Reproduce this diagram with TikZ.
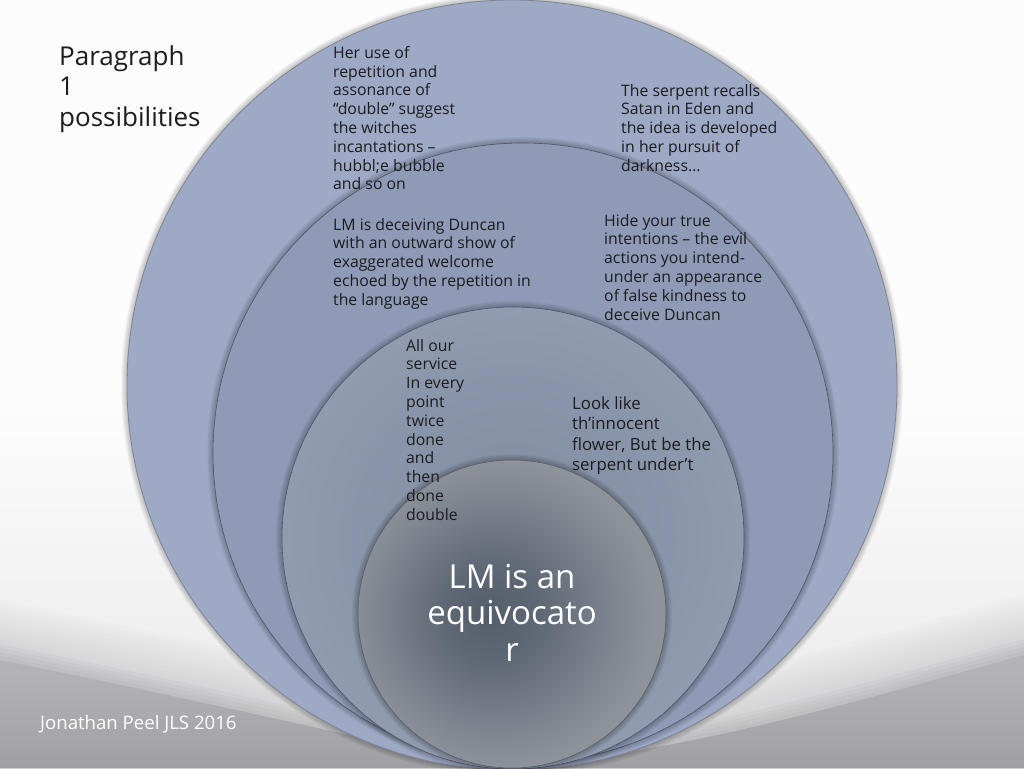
\documentclass[tikz,border=0pt]{standalone}
\usepackage{fontspec}
\setmainfont{Open Sans}
\definecolor{ringA}{HTML}{9EA9C6}
\definecolor{ringB}{HTML}{8E9AB6}
\definecolor{ringC}{HTML}{8995AA}
\definecolor{coreIn}{HTML}{545E6A}
\definecolor{coreMid}{HTML}{78808B}
\definecolor{coreOut}{HTML}{8E939A}
\definecolor{txt}{HTML}{1C1C1E}
\definecolor{bgLow}{HTML}{A0A0A4}
\definecolor{bgMid}{HTML}{C4C4C7}
\pgfdeclareradialshading{coreshade}{\pgfpoint{-4bp}{0bp}}{color(0bp)=(coreIn); color(8bp)=(coreIn!70!coreMid); color(17bp)=(coreMid); color(25bp)=(coreOut); color(50bp)=(coreOut)}
\pgfdeclareradialshading{ringCshade}{\pgfpoint{0bp}{0bp}}{color(0bp)=(ringC!94!black); color(17bp)=(ringC); color(25bp)=(ringC!94!white); color(50bp)=(ringC!94!white)}
\tikzset{
  blocktext/.style={anchor=base west, inner sep=0pt, text=txt, font=\fontsize{15.8}{18.8}\selectfont},
  ringedge/.style={draw=black!45!ringB, line width=0.6pt},
}
\newcommand\softshade[3]{%
  \foreach \k in {1,...,6}{\fill[black,opacity=0.04] (#1,#2) circle[radius=#3pt+\k pt];}%
}
\begin{document}
\begin{tikzpicture}[x=1pt,y=-1pt]
\useasboundingbox (0,0) rectangle (1024,768);
% background
\fill[white!98!gray] (0,0) rectangle (1024,768);
\shade[top color=white!98!gray, bottom color=white!82!gray] (0,400) rectangle (1024,768);
\foreach \d in {-40,-36,...,0}{
  \fill[bgMid,opacity=0.05] (0,{640+\d}) .. controls (250,{690+\d}) and (420,{735+\d}) .. (512,{745+\d})
     .. controls (680,{735+\d}) and (860,{680+\d}) .. (1024,{635+\d}) -- (1024,768) -- (0,768) -- cycle;
}
\foreach \d in {4,8,...,16}{
  \fill[bgLow,opacity=0.12] (0,{640+\d}) .. controls (250,{690+\d}) and (420,{735+\d}) .. (512,{745+\d})
     .. controls (680,{735+\d}) and (860,{680+\d}) .. (1024,{635+\d}) -- (1024,768) -- (0,768) -- cycle;
}
\shade[top color=bgMid!60!bgLow, bottom color=bgLow] (0,660) .. controls (250,710) and (420,755) .. (512,765)
     .. controls (680,755) and (860,700) .. (1024,655) -- (1024,768) -- (0,768) -- cycle;
% outer circle
\softshade{512}{385}{385}
\fill[ringA] (512,385) circle[radius=385pt];
\draw[black!20!ringA!60!gray,line width=0.8pt] (512,385) circle[radius=385pt];
% second circle
\softshade{523}{453}{310}
\fill[ringB] (523,453) circle[radius=310pt];
\draw[ringedge] (523,453) circle[radius=310pt];
% third circle
\softshade{513}{538}{231}
\shade[shading=ringCshade] (513,538) circle[radius=231pt];
\draw[ringedge] (513,538) circle[radius=231pt];
% inner circle
\softshade{512}{614}{154}
\shade[shading=coreshade] (512,614) circle[radius=154pt];
\draw[draw=black!40!coreOut, line width=0.5pt] (512,614) circle[radius=154pt];
% texts
\node[anchor=base west, inner sep=0pt, text=txt, font=\fontsize{26}{30.5}\selectfont] (title) at (59,65)
  {\begin{tabular}[t]{@{}l@{}}Paragraph\\1\\possibilities\end{tabular}};
\node[blocktext] (rep) at (333,58.3)
  {\begin{tabular}[t]{@{}l@{}}Her use of\\repetition and\\assonance of\\“double” suggest\\the witches\\incantations –\\hubbl;e bubble\\and so on\end{tabular}};
\node[blocktext] (dec) at (333,230)
  {\begin{tabular}[t]{@{}l@{}}LM is deceiving Duncan\\with an outward show of\\exaggerated welcome\\echoed by the repetition in\\the language\end{tabular}};
\node[blocktext] (ser) at (621,96)
  {\begin{tabular}[t]{@{}l@{}}The serpent recalls\\Satan in Eden and\\the idea is developed\\in her pursuit of\\darkness…\end{tabular}};
\node[blocktext] (hide) at (604,226)
  {\begin{tabular}[t]{@{}l@{}}Hide your true\\intentions – the evil\\actions you intend-\\under an appearance\\of false kindness to\\deceive Duncan\end{tabular}};
\node[blocktext] (serv) at (406,351)
  {\begin{tabular}[t]{@{}l@{}}All our\\service\\In every\\point\\twice\\done\\and\\then\\done\\double\end{tabular}};
\node[blocktext, font=\fontsize{16.8}{20.5}\selectfont] (look) at (572,409)
  {\begin{tabular}[t]{@{}l@{}}Look like\\th’innocent\\flower, But be the\\serpent under’t\end{tabular}};
\node[anchor=base, inner sep=0pt, text=white, font=\fontsize{33}{36.5}\selectfont] (core) at (512,588)
  {\begin{tabular}[t]{@{}c@{}}LM is an\\equivocato\\r\end{tabular}};
\node[anchor=base west, inner sep=0pt, text=white, font=\fontsize{18.6}{22}\selectfont] (foot) at (40,729)
  {Jonathan Peel JLS 2016};
\end{tikzpicture}
\end{document}
